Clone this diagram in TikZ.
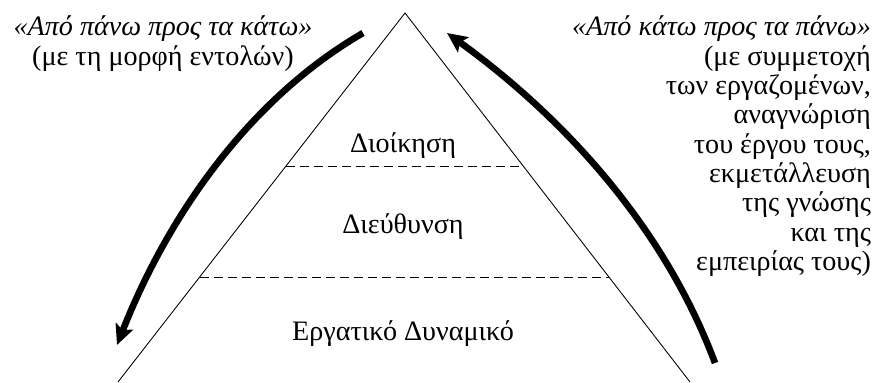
\documentclass[tikz,border=0pt]{standalone}
\usepackage{fontspec}
\setmainfont{Liberation Serif}
\usepackage{tikz}
\usetikzlibrary{calc}
\usetikzlibrary{arrows.meta}

\begin{document}
\begin{tikzpicture}[
    side/.style={line width=0.022cm},
    level/.style={line width=0.016cm, dash pattern=on 0.22cm off 0.13cm},
    flow/.style={line width=0.165cm, -{Stealth[length=0.5cm,width=0.46cm,inset=0.1cm]}},
    layer/.style={anchor=base, inner sep=0pt},
    remark/.style={align=right, inner sep=0pt}
  ]
                {\fontsize{20}{20.9}\selectfont
                \useasboundingbox (0.000000,0.000000) rectangle (22.000000,9.550000);%

                % Marking corners of the pyramid
                \coordinate (top) at (10.125000,9.225000);%
                \coordinate (bl) at (2.950000,0.000000);%
                \coordinate (br) at (17.250000,0.000000);%

                % Drawing sides of the pyramid
                \draw [side] (bl) -- (top) -- (br);%

                % Drawing dashed levels
                \draw [level] ($(bl)!0.585!(top)$) -- ($(br)!0.585!(top)$);%
                \draw [level] ($(bl)!0.285!(top)$) -- ($(br)!0.285!(top)$);%

                % Marking layer names
                \node [layer] (admin) at (10.075000,5.725000) {Διοίκηση};%
                \node [layer] (direct) at (10.075000,3.725000) {Διεύθυνση};%
                \node [layer] (staff) at (10.075000,1.050000) {Εργατικό Δυναμικό};%

                % Marking remarks
                \node [remark, align=center, anchor=north] (topdown) at (4.075000,9.160000)
                  {{\itshape «Από πάνω προς τα κάτω»}\\(με τη μορφή εντολών)};%
                \node [remark, anchor=north east] (bottomup) at (21.780000,9.160000)
                  {{\itshape «Από κάτω προς τα πάνω»}\\(με συμμετοχή\\των εργαζομένων,\\αναγνώριση\\του έργου τους,\\εκμετάλλευση\\της γνώσης\\και της\\εμπειρίας τους)};%

                % Drawing arrow downwards
                \coordinate (down start) at (9.075000,8.725000);%
                \coordinate (down end) at (2.925000,0.925000);%
                \draw [flow] (down start) .. controls (6.137500,7.020000) and (4.147500,4.025000) .. (down end);%

                % Drawing arrow upwards
                \coordinate (up start) at (17.875000,0.475000);%
                \coordinate (up end) at (11.175000,8.725000);%
                \draw [flow] (up start) .. controls (16.605000,3.885000) and (14.075000,6.630000) .. (up end);%
                }
\end{tikzpicture}
\end{document}
